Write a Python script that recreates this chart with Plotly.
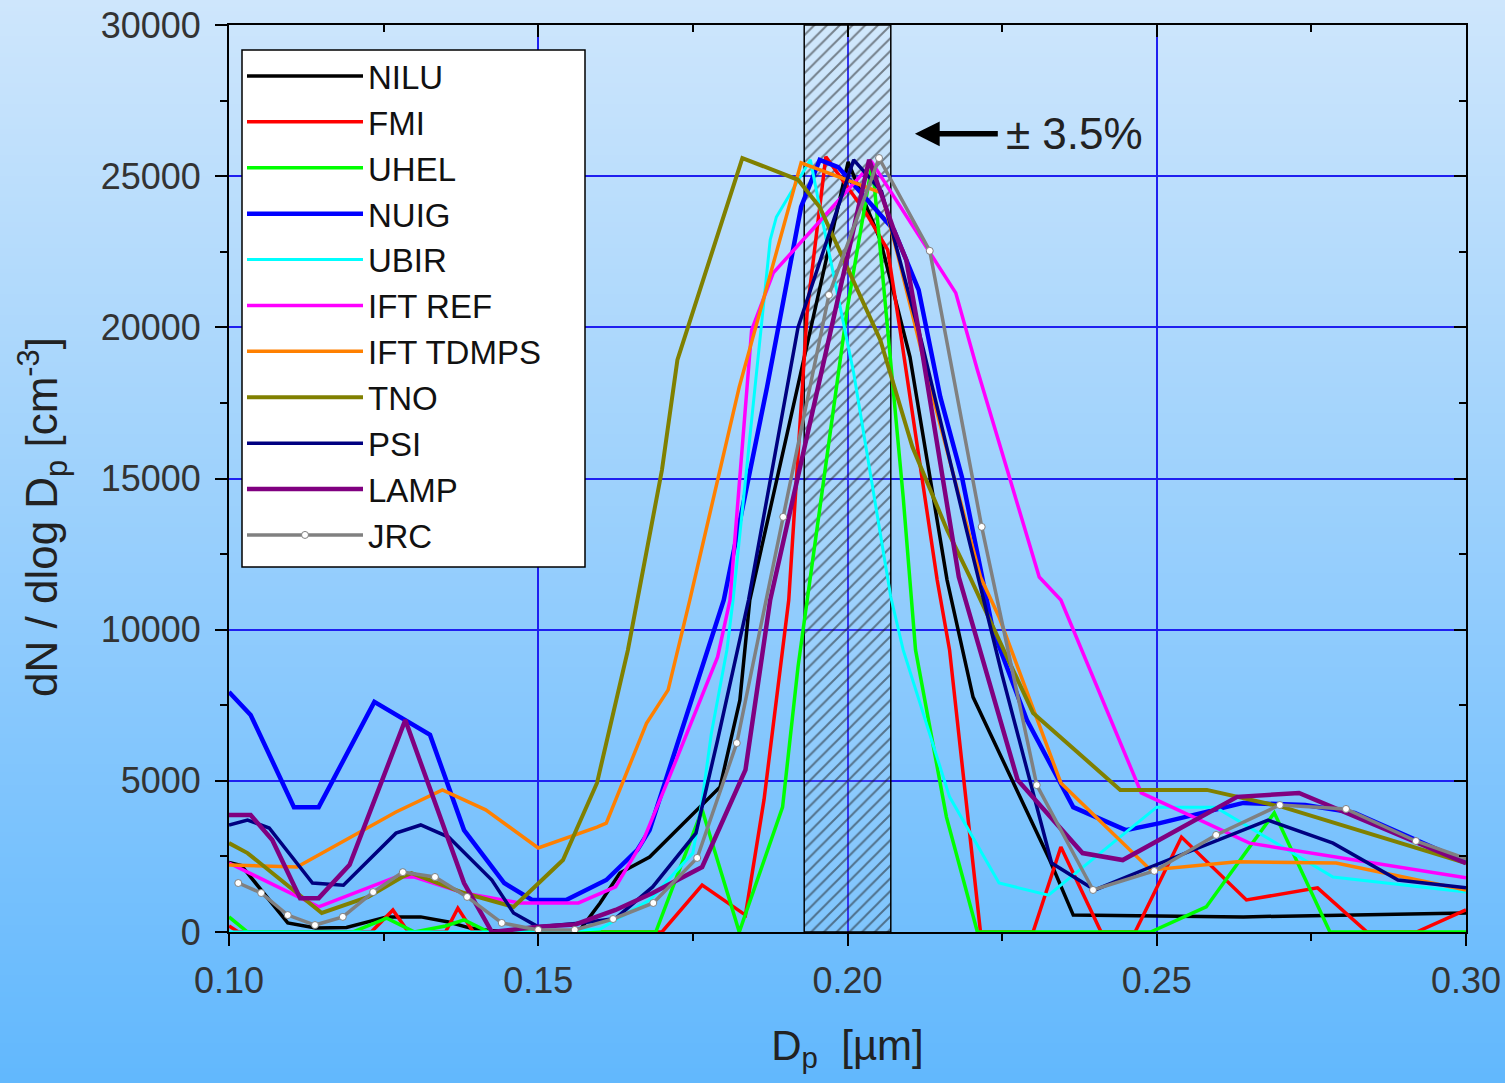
import base64, struct, zlib
import plotly.graph_objects as go

# ---------------- data ----------------
NILU_x = [0.100, 0.102, 0.1095, 0.114, 0.119, 0.1255, 0.131, 0.1355, 0.139, 0.142, 0.150, 0.1565, 0.160, 0.1632, 0.168, 0.1794, 0.1826, 0.1842, 0.2001, 0.2053, 0.2101, 0.2161, 0.2203, 0.2263, 0.2327, 0.2365, 0.264, 0.300]
NILU_y = [2300, 2200, 300, 130, 150, 500, 500, 330, 130, 50, 0, 0, 960, 1950, 2480, 4800, 7670, 10980, 25470, 22890, 19020, 11640, 7770, 5130, 2380, 560, 500, 630]

FMI_x = [0.100, 0.1015, 0.123, 0.1265, 0.129, 0.135, 0.137, 0.1395, 0.170, 0.1765, 0.1835, 0.1865, 0.1905, 0.1935, 0.1965, 0.203, 0.2065, 0.2085, 0.2145, 0.2165, 0.2215, 0.230, 0.2345, 0.241, 0.2465, 0.254, 0.2645, 0.276, 0.284, 0.292, 0.300]
FMI_y = [200, 0, 0, 730, 0, 0, 790, 0, 0, 1550, 560, 4370, 10980, 20580, 25640, 23780, 22560, 19910, 11640, 9330, 0, 0, 2810, 0, 0, 3140, 1060, 1460, 0, 0, 730]

UHEL_x = [0.100, 0.103, 0.120, 0.1255, 0.130, 0.135, 0.138, 0.142, 0.169, 0.1765, 0.1825, 0.1895, 0.192, 0.200, 0.204, 0.2065, 0.209, 0.211, 0.216, 0.221, 0.249, 0.258, 0.269, 0.278, 0.300]
UHEL_y = [500, 0, 0, 460, 0, 200, 400, 0, 0, 4040, 0, 4130, 8770, 20670, 25440, 19910, 14390, 9330, 3800, 0, 0, 830, 3940, 0, 0]

NUIG_x = [0.100, 0.1035, 0.1105, 0.1145, 0.1235, 0.1325, 0.138, 0.1445, 0.149, 0.1545, 0.161, 0.166, 0.168, 0.180, 0.187, 0.1925, 0.1955, 0.1985, 0.2075, 0.2115, 0.215, 0.2185, 0.2235, 0.229, 0.2365, 0.245, 0.2505, 0.264, 0.274, 0.282, 0.300]
NUIG_y = [7940, 7180, 4130, 4130, 7610, 6520, 3370, 1620, 1060, 1060, 1720, 2710, 3370, 10980, 18030, 23980, 25540, 25300, 23220, 21240, 17700, 15050, 9990, 7010, 4130, 3370, 3600, 4270, 4200, 3940, 2320]

UBIR_x = [0.100, 0.150, 0.160, 0.168, 0.175, 0.1765, 0.178, 0.1805, 0.1815, 0.1875, 0.1885, 0.194, 0.1955, 0.1985, 0.201, 0.207, 0.209, 0.2165, 0.2245, 0.2325, 0.250, 0.2595, 0.2785, 0.300]
UBIR_y = [0, 0, 100, 1060, 2610, 4370, 6580, 9330, 10980, 22890, 23650, 25540, 23980, 21000, 18490, 11080, 9330, 4470, 1620, 1220, 4130, 4130, 1820, 1320]

IFTREF_x = [0.100, 0.1145, 0.127, 0.130, 0.138, 0.147, 0.1565, 0.1625, 0.167, 0.171, 0.179, 0.181, 0.1845, 0.188, 0.204, 0.213, 0.2175, 0.221, 0.2265, 0.231, 0.2345, 0.2475, 0.265, 0.300]
IFTREF_y = [2280, 830, 1820, 1820, 1290, 960, 960, 1490, 3040, 5030, 9100, 10980, 19910, 21800, 25440, 22560, 21140, 18590, 14850, 11740, 10980, 4600, 2940, 1790]

TDMPS_x = [0.100, 0.111, 0.127, 0.133, 0.1345, 0.1415, 0.150, 0.1595, 0.161, 0.1675, 0.171, 0.1745, 0.1825, 0.1925, 0.2055, 0.208, 0.2135, 0.2215, 0.2245, 0.2345, 0.249, 0.263, 0.279, 0.300]
TDMPS_y = [2220, 2150, 3970, 4530, 4700, 4040, 2780, 3470, 3600, 6900, 8010, 10980, 18030, 25440, 24450, 22500, 17930, 11740, 10420, 4930, 2050, 2320, 2280, 1390]

TNO_x = [0.100, 0.103, 0.115, 0.1225, 0.128, 0.1295, 0.138, 0.146, 0.154, 0.1595, 0.1645, 0.170, 0.1725, 0.183, 0.192, 0.1955, 0.2053, 0.2105, 0.2161, 0.2198, 0.230, 0.2441, 0.2581, 0.2704, 0.300]
TNO_y = [2940, 2610, 630, 1160, 1820, 1950, 1290, 830, 2380, 4930, 9330, 15280, 18920, 25600, 24880, 23980, 19580, 16040, 13300, 11740, 7240, 4700, 4700, 4130, 2280]

PSI_x = [0.100, 0.103, 0.1065, 0.1135, 0.1185, 0.127, 0.131, 0.1355, 0.1425, 0.146, 0.150, 0.157, 0.1625, 0.1685, 0.1755, 0.179, 0.184, 0.192, 0.201, 0.2055, 0.212, 0.219, 0.225, 0.233, 0.240, 0.249, 0.268, 0.2785, 0.289, 0.300]
PSI_y = [3540, 3700, 3440, 1620, 1550, 3270, 3540, 3140, 1720, 630, 170, 300, 450, 1490, 3270, 6350, 10980, 20000, 25540, 24500, 19500, 13500, 8500, 2280, 1390, 2150, 3700, 2940, 1720, 1460]

LAMP_x = [0.100, 0.1035, 0.107, 0.1115, 0.1145, 0.1195, 0.1285, 0.1325, 0.138, 0.1425, 0.150, 0.156, 0.1625, 0.1685, 0.1765, 0.1835, 0.1875, 0.2035, 0.2075, 0.2095, 0.2115, 0.218, 0.2275, 0.238, 0.2445, 0.263, 0.273, 0.300]
LAMP_y = [3870, 3870, 3040, 1120, 1120, 2220, 7010, 4700, 1620, 0, 170, 250, 730, 1290, 2150, 5360, 10980, 25540, 23220, 22230, 19910, 11740, 5030, 2610, 2380, 4470, 4600, 2280]

JRC_x = [0.1015, 0.1052, 0.1095, 0.1139, 0.1184, 0.1233, 0.1281, 0.1333, 0.1385, 0.1441, 0.1500, 0.1559, 0.1621, 0.1686, 0.1757, 0.1821, 0.1896, 0.1970, 0.2051, 0.2133, 0.2217, 0.2306, 0.2397, 0.2496, 0.2596, 0.2699, 0.2806, 0.2919, 0.3039]
JRC_y = [1620, 1290, 560, 230, 500, 1320, 1980, 1820, 1160, 300, 70, 70, 430, 960, 2450, 6250, 13730, 21070, 25600, 22530, 13400, 4860, 1390, 2020, 3210, 4200, 4070, 3010, 2150]

series_names = ["NILU", "FMI", "UHEL", "NUIG", "UBIR", "IFT REF", "IFT TDMPS", "TNO", "PSI", "LAMP", "JRC"]
series_x = [NILU_x, FMI_x, UHEL_x, NUIG_x, UBIR_x, IFTREF_x, TDMPS_x, TNO_x, PSI_x, LAMP_x, JRC_x]
series_y = [NILU_y, FMI_y, UHEL_y, NUIG_y, UBIR_y, IFTREF_y, TDMPS_y, TNO_y, PSI_y, LAMP_y, JRC_y]

band_center = 0.20
band_rel = 0.035
y_max = 30000

# ---------------- styles ----------------
colors = ["#000000", "#ff0000", "#00ff00", "#0000ff", "#00ffff", "#ff00ff",
          "#ff8000", "#808000", "#000080", "#800080", "#808080"]
widths = [3.5, 3.5, 3.5, 4.5, 3, 3.5, 3.5, 4, 3.5, 4.5, 3.5]
FONT = "Liberation Sans, Arial, sans-serif"

W, H = 1505, 1083
ML, MR, MT, MB = 229, 39, 25, 151
PW, PH = W - ML - MR, H - MT - MB


def px_x(p):
    return (p - ML) / PW


def px_y(p):
    return (H - MB - p) / PH


def gradient_png(h, top, bottom):
    rows = []
    for i in range(h):
        t = i / (h - 1)
        c = bytes(int(round(top[k] + (bottom[k] - top[k]) * t)) for k in range(3))
        rows.append(b"\x00" + c * 2)
    raw = b"".join(rows)

    def chunk(tag, data):
        return struct.pack(">I", len(data)) + tag + data + struct.pack(">I", zlib.crc32(tag + data) & 0xffffffff)

    png = b"\x89PNG\r\n\x1a\n"
    png += chunk(b"IHDR", struct.pack(">IIBBBBB", 2, h, 8, 2, 0, 0, 0))
    png += chunk(b"IDAT", zlib.compress(raw, 9))
    png += chunk(b"IEND", b"")
    return "data:image/png;base64," + base64.b64encode(png).decode()


bg = gradient_png(256, (206, 230, 252), (98, 184, 253))

fig = go.Figure()

# hatched ±3.5% band
x0 = band_center * (1 - band_rel)
x1 = band_center * (1 + band_rel)
fig.add_trace(go.Scatter(
    x=[x0, x1, x1, x0, x0], y=[0, 0, y_max, y_max, 0],
    mode="lines", fill="toself",
    fillcolor="rgba(0,0,0,0)",
    fillpattern=dict(shape="/", fgcolor="#1a1a1a", bgcolor="rgba(255,255,255,0.10)", size=9, solidity=0.22),
    line=dict(color="#000000", width=1.5),
    showlegend=False, hoverinfo="skip"))

for name, xs, ys, col, lw in zip(series_names, series_x, series_y, colors, widths):
    if name == "JRC":
        fig.add_trace(go.Scatter(
            x=xs, y=ys, name=name, mode="lines+markers",
            line=dict(color=col, width=lw),
            marker=dict(symbol="circle", size=7, color="white", line=dict(color=col, width=1))))
    else:
        fig.add_trace(go.Scatter(x=xs, y=ys, name=name, mode="lines",
                                 line=dict(color=col, width=lw)))

axis_common = dict(showline=True, linecolor="black", linewidth=2, zeroline=False, automargin=False)

fig.update_layout(
    width=W, height=H,
    margin=dict(l=ML, r=MR, t=MT, b=MB, pad=0, autoexpand=False),
    paper_bgcolor="#98cdf9",
    plot_bgcolor="rgba(0,0,0,0)",
    font=dict(family=FONT, size=34, color="#222222"),
    images=[dict(source=bg, xref="paper", yref="paper",
                 x=-ML / PW, y=1 + MT / PH, sizex=W / PW, sizey=H / PH,
                 xanchor="left", yanchor="top", sizing="stretch", layer="below")],
    xaxis=dict(range=[0.10, 0.30], dtick=0.05, tick0=0.10, tickformat=".2f",
               ticks="outside", ticklen=12, tickwidth=2, tickcolor="black", ticklabelstandoff=4,
               minor=dict(dtick=0.025, ticks="outside", ticklen=7, tickwidth=2, tickcolor="black", showgrid=False),
               showgrid=True, gridcolor="#1f1ff0", gridwidth=1.5,
               title=dict(text="D<sub>p</sub>  [µm]", font=dict(size=42, color="#222222"), standoff=30),
               tickfont=dict(size=36, color="#333333"),
               **axis_common),
    yaxis=dict(range=[0, y_max], dtick=5000, tickformat="d",
               ticks="outside", ticklen=12, tickwidth=2, tickcolor="black", ticklabelstandoff=7,
               minor=dict(dtick=2500, ticks="outside", ticklen=7, tickwidth=2, tickcolor="black", showgrid=False),
               showgrid=True, gridcolor="#1f1ff0", gridwidth=1.5,
               tickfont=dict(size=36, color="#333333"),
               **axis_common),
    xaxis2=dict(overlaying="x", side="top", range=[0.10, 0.30], dtick=0.05, tick0=0.10,
                showticklabels=False, ticks="inside", ticklen=12, tickwidth=2, tickcolor="black",
                minor=dict(dtick=0.025, ticks="inside", ticklen=7, tickwidth=2, tickcolor="black"),
                showgrid=False, showline=True, linecolor="black", linewidth=2, zeroline=False, automargin=False),
    yaxis2=dict(overlaying="y", side="right", range=[0, y_max], dtick=5000,
                showticklabels=False, ticks="inside", ticklen=12, tickwidth=2, tickcolor="black",
                minor=dict(dtick=2500, ticks="inside", ticklen=7, tickwidth=2, tickcolor="black"),
                showgrid=False, showline=True, linecolor="black", linewidth=2, zeroline=False, automargin=False),
    legend=dict(x=px_x(242), y=px_y(48), xanchor="left", yanchor="top",
                bgcolor="rgba(0,0,0,0)", borderwidth=0,
                font=dict(size=33, color="#111111"), itemwidth=116,
                tracegroupgap=0),
    showlegend=True,
    # white framed box behind the legend (drawn above the traces, below the legend text)
    shapes=[dict(type="rect", xref="paper", yref="paper",
                 x0=px_x(242), x1=px_x(585), y0=px_y(567), y1=px_y(50),
                 fillcolor="white", line=dict(color="black", width=1.5), layer="above")],
)

# invisible helper trace so the mirrored axes render
fig.add_trace(go.Scatter(x=[0.10], y=[0], xaxis="x2", yaxis="y2", mode="markers",
                         marker=dict(opacity=0), showlegend=False, hoverinfo="skip"))

# y-axis title (placed as rotated annotation to match reference position)
fig.add_annotation(x=px_x(42), y=px_y(517), xref="paper", yref="paper",
                   text="dN / dlog D<sub>p</sub> [cm<sup>-3</sup>]", textangle=-90, showarrow=False,
                   xanchor="center", yanchor="middle", font=dict(size=44, color="#222222"))

# arrow with label
fig.add_annotation(x=0.2109, y=26400, ax=0.2243, ay=26400, xref="x", yref="y", axref="x", ayref="y",
                   text="± 3.5%", xanchor="left", yanchor="middle", showarrow=True, borderpad=7,
                   arrowhead=2, arrowsize=0.9, arrowwidth=5.5, arrowcolor="black",
                   font=dict(size=44, color="#222222"))

fig.write_html("out.html", config={"displayModeBar": False},
               post_script="document.body.style.margin='0';document.body.style.overflow='hidden';")
